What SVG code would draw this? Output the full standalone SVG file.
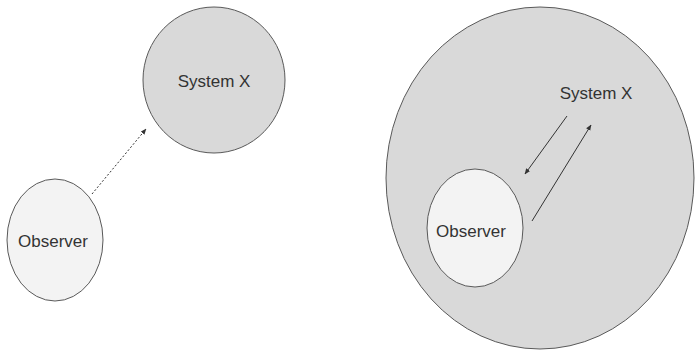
<svg xmlns="http://www.w3.org/2000/svg" width="695" height="353" viewBox="0 0 695 353">
<style>
.sys{fill:#d9d9d9;stroke:#595959;stroke-width:1}
.obs{fill:#f3f3f3;stroke:#595959;stroke-width:1}
.lbl{font-family:"Liberation Sans",Arial,sans-serif;font-size:17px;fill:#333333;text-anchor:middle}
.conn{stroke:#333333;stroke-width:1;fill:none}
</style>
<defs>
<marker id="ah" viewBox="0 0 10 10" refX="9" refY="5" markerWidth="6" markerHeight="6" orient="auto" markerUnits="userSpaceOnUse">
<path d="M0,1 L10,5 L0,9 Z" fill="#333333"/>
</marker>
</defs>
<rect width="695" height="353" fill="#ffffff"/>
<g id="left-system">
<ellipse class="sys" cx="214" cy="80" rx="71" ry="73"/>
<text class="lbl" x="214" y="87">System X</text>
</g>
<g id="left-observer">
<ellipse class="obs" cx="55" cy="240" rx="48" ry="61"/>
<text class="lbl" x="53" y="247">Observer</text>
</g>
<g id="right-system">
<ellipse class="sys" cx="540" cy="178" rx="154" ry="171"/>
<text class="lbl" x="596" y="99">System X</text>
</g>
<g id="right-observer">
<ellipse class="obs" cx="475" cy="228" rx="48" ry="59"/>
<text class="lbl" x="471" y="237">Observer</text>
</g>
<g id="connectors">
<line class="conn" x1="92" y1="194" x2="146" y2="129" stroke-dasharray="2,2" marker-end="url(#ah)"/>
<line class="conn" x1="567" y1="116" x2="525" y2="174" marker-end="url(#ah)"/>
<line class="conn" x1="532" y1="221" x2="591" y2="125" marker-end="url(#ah)"/>
</g>
</svg>
